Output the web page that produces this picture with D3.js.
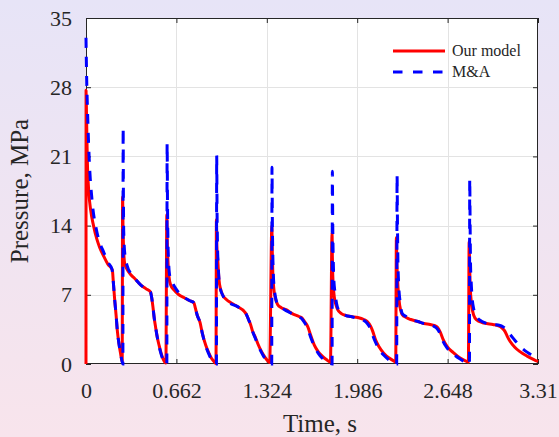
<!DOCTYPE html>
<html><head><meta charset="utf-8">
<script src="https://cdn.jsdelivr.net/npm/d3@7"></script>
<style>html,body{margin:0;padding:0;background:#fff;} body{width:559px;height:437px;overflow:hidden;}</style>
</head><body>
<svg id="c" width="559" height="437"></svg>
<script>
const xTicks = [0, 0.662, 1.324, 1.986, 2.648, 3.31];
const xTickLabels = ["0", "0.662", "1.324", "1.986", "2.648", "3.31"];
const yTicks = [0, 7, 14, 21, 28, 35];
const seriesNames = ["Our model", "M&A"];
const xTitle = "Time, s";
const yTitle = "Pressure, MPa";

// Our model (time s, pressure MPa)
const ourModel = [
  [0,0],[0.0005,27.7],[0.004,25],[0.01,20.5],[0.02,17.5],[0.035,15.5],[0.055,14],[0.08,12.6],[0.1,11.8],[0.13,10.9],[0.16,10.1],[0.193,9.5],
  [0.2,8.3],[0.21,6.5],[0.22,5.0],[0.23,3.3],[0.242,2.0],[0.254,1.0],[0.265,0.2],
  [0.268,16.9],[0.271,14],[0.275,11.8],[0.283,10.2],[0.3,9.6],[0.33,9.0],[0.36,8.6],[0.4,8.0],[0.44,7.6],[0.472,7.3],
  [0.48,6.8],[0.49,5.8],[0.5,4.6],[0.51,3.7],[0.522,2.7],[0.535,1.9],[0.55,1.1],[0.565,0.5],[0.585,0.1],
  [0.592,15.1],[0.595,12.5],[0.6,10.5],[0.608,8.8],[0.62,8.0],[0.644,7.5],[0.68,7.0],[0.72,6.7],[0.76,6.4],[0.79,6.2],
  [0.8,5.7],[0.815,4.9],[0.835,4.2],[0.852,3.1],[0.877,1.9],[0.9,1.1],[0.92,0.55],[0.94,0.2],[0.952,0.05],
  [0.955,14.6],[0.958,12],[0.965,10.5],[0.974,8.5],[0.985,7.6],[1.0,7.0],[1.03,6.5],[1.06,6.2],[1.11,5.8],[1.16,5.3],
  [1.175,5.0],[1.19,4.5],[1.205,4.0],[1.22,3.3],[1.24,2.7],[1.26,2.0],[1.28,1.4],[1.3,0.9],[1.32,0.5],[1.345,0.15],
  [1.361,14.0],[1.364,11.5],[1.368,9.2],[1.379,7.2],[1.39,6.5],[1.404,6.0],[1.43,5.7],[1.465,5.5],[1.51,5.1],[1.56,4.8],
  [1.585,4.6],[1.6,4.3],[1.623,3.8],[1.648,2.8],[1.672,1.9],[1.7,1.25],[1.73,0.8],[1.76,0.45],[1.79,0.2],
  [1.802,13.3],[1.804,11],[1.807,9.0],[1.818,6.8],[1.83,6.0],[1.843,5.5],[1.87,5.1],[1.904,4.9],[1.94,4.8],[1.99,4.7],[2.035,4.5],
  [2.06,4.3],[2.085,3.8],[2.1,3.3],[2.122,2.4],[2.146,1.75],[2.18,1.1],[2.22,0.6],[2.255,0.3],[2.268,0.2],
  [2.273,12.8],[2.276,10.5],[2.28,9.0],[2.292,6.5],[2.305,5.4],[2.316,5.0],[2.345,4.7],[2.378,4.5],[2.43,4.3],[2.475,4.1],[2.52,4.0],[2.55,3.9],
  [2.575,3.7],[2.595,3.2],[2.615,2.5],[2.645,1.75],[2.69,1.15],[2.74,0.6],[2.79,0.25],[2.8,0.2],
  [2.806,12.4],[2.809,10],[2.813,8.0],[2.824,6.0],[2.84,4.9],[2.861,4.45],[2.9,4.2],[2.934,4.1],[2.98,4.0],[3.032,3.8],
  [3.05,3.6],[3.068,3.3],[3.085,2.8],[3.105,2.3],[3.14,1.7],[3.178,1.25],[3.23,0.8],[3.276,0.47],[3.31,0.25]
];

// M&A (time s, pressure MPa)
const mAndA = [
  [0,33],[0.004,29.5],[0.011,25.7],[0.024,20.6],[0.044,16.6],[0.076,13.6],[0.1,12.3],[0.13,11.3],[0.16,10.3],[0.19,9.6],
  [0.2,8.3],[0.21,6.5],[0.22,5.0],[0.23,3.3],[0.242,2.0],[0.254,1.0],[0.264,0.3],[0.27,0],
  [0.272,23.9],[0.274,17],[0.276,13.5],[0.285,11],[0.3,10],[0.33,9.1],[0.36,8.6],[0.4,8.0],[0.44,7.6],[0.472,7.3],
  [0.48,6.8],[0.49,5.8],[0.5,4.6],[0.51,3.7],[0.522,2.7],[0.535,1.8],[0.55,1.0],[0.565,0.4],[0.58,0.05],[0.592,0],
  [0.594,22.3],[0.597,16],[0.6,12.5],[0.606,10],[0.615,8.8],[0.627,8.4],[0.664,7.5],[0.7,6.9],[0.72,6.7],[0.76,6.4],[0.79,6.2],
  [0.8,5.7],[0.815,4.9],[0.835,4.2],[0.852,3.1],[0.877,1.8],[0.9,1.0],[0.92,0.4],[0.945,0.05],[0.955,0],
  [0.957,21.1],[0.96,15],[0.963,12],[0.968,10],[0.981,7.8],[1.0,7.0],[1.018,6.5],[1.06,6.1],[1.11,5.8],[1.16,5.3],
  [1.175,5.0],[1.19,4.5],[1.205,4.0],[1.22,3.3],[1.24,2.6],[1.26,1.9],[1.28,1.3],[1.3,0.8],[1.32,0.4],[1.345,0.05],[1.36,0],
  [1.362,19.9],[1.365,14],[1.368,11],[1.372,9],[1.38,7.5],[1.39,6.6],[1.404,6.0],[1.43,5.7],[1.465,5.4],[1.51,5.1],[1.56,4.8],
  [1.585,4.5],[1.6,4.2],[1.623,3.6],[1.648,2.6],[1.672,1.8],[1.7,1.1],[1.73,0.6],[1.76,0.3],[1.79,0.05],[1.802,0],
  [1.804,19.5],[1.807,14],[1.81,11],[1.815,8.5],[1.823,7.3],[1.84,5.8],[1.86,5.3],[1.904,4.9],[1.94,4.8],[1.99,4.6],[2.035,4.4],
  [2.06,4.1],[2.085,3.5],[2.1,2.9],[2.12,2.2],[2.146,1.5],[2.18,0.9],[2.22,0.4],[2.255,0.1],[2.275,0],
  [2.278,19.1],[2.281,14],[2.284,10.5],[2.29,8],[2.3,6.3],[2.316,5.1],[2.345,4.8],[2.378,4.5],[2.43,4.3],[2.475,4.1],[2.52,4.0],[2.55,3.8],
  [2.575,3.5],[2.595,3.0],[2.615,2.3],[2.645,1.6],[2.69,1.0],[2.74,0.5],[2.79,0.1],[2.808,0],
  [2.81,18.7],[2.813,14],[2.816,10],[2.82,8.5],[2.826,7.0],[2.84,5.5],[2.861,4.8],[2.9,4.3],[2.934,4.1],[2.98,4.0],[3.032,3.9],
  [3.05,3.8],[3.068,3.6],[3.085,3.3],[3.105,3.0],[3.14,2.4],[3.178,1.8],[3.23,1.2],[3.276,0.8],[3.31,0.5]
];

const W = 559, H = 437;
const m = {left: 86, right: 538, top: 18, bottom: 364};
const FONT = "'Liberation Serif', 'Times New Roman', serif";
const TXT = "#262626";

const svg = d3.select("#c");
const defs = svg.append("defs");
const grad = defs.append("linearGradient").attr("id", "bg").attr("x1", 0).attr("y1", 0).attr("x2", 0).attr("y2", 1);
grad.append("stop").attr("offset", "0%").attr("stop-color", "#e7e4f7");
grad.append("stop").attr("offset", "100%").attr("stop-color", "#f8e4ec");
svg.append("rect").attr("width", W).attr("height", H).attr("fill", "url(#bg)");

defs.append("clipPath").attr("id", "clip").append("rect")
  .attr("x", m.left - 2).attr("y", m.top - 2).attr("width", m.right - m.left + 4).attr("height", m.bottom - m.top + 4);

const x = d3.scaleLinear().domain([0, 3.31]).range([m.left, m.right]);
const y = d3.scaleLinear().domain([0, 35]).range([m.bottom, m.top]);

svg.append("rect").attr("x", m.left).attr("y", m.top).attr("width", m.right - m.left).attr("height", m.bottom - m.top).attr("fill", "#fff");

// grid
const grid = svg.append("g").attr("stroke", "#e3e3e3").attr("stroke-width", 1);
grid.selectAll("line.gx").data(xTicks.slice(1, -1)).join("line")
  .attr("x1", d => Math.round(x(d)) + 0.5).attr("x2", d => Math.round(x(d)) + 0.5)
  .attr("y1", m.top).attr("y2", m.bottom);
grid.selectAll("line.gy").data(yTicks.slice(1, -1)).join("line")
  .attr("y1", d => Math.round(y(d)) + 0.5).attr("y2", d => Math.round(y(d)) + 0.5)
  .attr("x1", m.left).attr("x2", m.right);

// axes box + ticks (drawn before the lines so the data sits on top like the reference)
const fmtX = (d, i) => xTickLabels[i];
const ax = svg.append("g").attr("transform", `translate(0,${m.bottom})`)
  .call(d3.axisBottom(x).tickValues(xTicks).tickFormat(fmtX).tickSizeInner(-5).tickSizeOuter(0).tickPadding(18));
const ay = svg.append("g").attr("transform", `translate(${m.left},0)`)
  .call(d3.axisLeft(y).tickValues(yTicks).tickFormat(d3.format("d")).tickSizeInner(-5).tickSizeOuter(0).tickPadding(14));
const axt = svg.append("g").attr("transform", `translate(0,${m.top})`)
  .call(d3.axisTop(x).tickValues(xTicks).tickFormat("").tickSizeInner(-5).tickSizeOuter(0));
const ayr = svg.append("g").attr("transform", `translate(${m.right},0)`)
  .call(d3.axisRight(y).tickValues(yTicks).tickFormat("").tickSizeInner(-5).tickSizeOuter(0));
[ax, ay, axt, ayr].forEach(g => {
  g.select(".domain").remove();
  g.selectAll(".tick line").attr("stroke", TXT).attr("stroke-width", 1);
  g.selectAll(".tick text").attr("fill", TXT).style("font-family", FONT).style("font-size", "22px");
});
svg.append("rect").attr("x", m.left + 0.5).attr("y", m.top + 0.5)
  .attr("width", m.right - m.left - 1).attr("height", m.bottom - m.top - 1)
  .attr("fill", "none").attr("stroke", TXT).attr("stroke-width", 1);

// lines
const line = d3.line().x(d => x(d[0])).y(d => y(d[1])).curve(d3.curveMonotoneX);
const plot = svg.append("g").attr("clip-path", "url(#clip)");
plot.append("path").datum(ourModel).attr("d", line)
  .attr("fill", "none").attr("stroke", "#ff0000").attr("stroke-width", 3).attr("stroke-linejoin", "round");
plot.append("path").datum(mAndA).attr("d", line)
  .attr("fill", "none").attr("stroke", "#0000ff").attr("stroke-width", 3).attr("stroke-dasharray", "10,9");

// titles
svg.append("text").attr("x", 320).attr("y", 432).attr("text-anchor", "middle")
  .attr("fill", TXT).style("font-family", FONT).style("font-size", "25px").text(xTitle);
svg.append("text").attr("transform", `translate(28,${(m.top + m.bottom) / 2}) rotate(-90)`).attr("text-anchor", "middle")
  .attr("fill", TXT).style("font-family", FONT).style("font-size", "25px").text(yTitle);

// legend
const leg = svg.append("g");
const legItems = [
  {name: seriesNames[0], color: "#ff0000", dash: null, yy: 51},
  {name: seriesNames[1], color: "#0000ff", dash: "9.5,10.5", yy: 72}
];
legItems.forEach(it => {
  leg.append("line").attr("x1", 393).attr("x2", 445).attr("y1", it.yy).attr("y2", it.yy)
    .attr("stroke", it.color).attr("stroke-width", 3).attr("stroke-dasharray", it.dash);
  leg.append("text").attr("x", 452).attr("y", it.yy + 5).attr("fill", TXT)
    .style("font-family", FONT).style("font-size", "16px").text(it.name);
});
</script>
</body></html>
